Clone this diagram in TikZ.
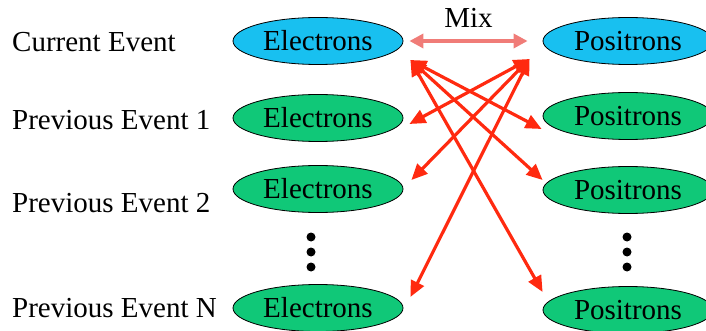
\documentclass[tikz,border=0pt]{standalone}
\usepackage{fontspec}
\setmainfont{Liberation Serif}
\usetikzlibrary{positioning,arrows.meta,shapes.geometric}
\definecolor{cur}{HTML}{18C0F0}
\definecolor{prev}{HTML}{10C878}
\definecolor{mixc}{HTML}{F07C78}
\definecolor{link}{HTML}{FF2A10}

\begin{document}
\begin{tikzpicture}[x=1pt,y=-1pt,
  ev/.style={ellipse, draw=black, line width=0.8pt, minimum width=170pt,
             minimum height=47pt, inner sep=0pt,
             font=\fontsize{29}{34}\selectfont},
  lbl/.style={anchor=west, inner sep=0pt,
              font=\fontsize{29}{34}\selectfont},
  arr/.style={{Triangle[length=16pt,width=14pt]}-{Triangle[length=16pt,width=14pt]},
              line width=3.2pt, color=link},
  mixarr/.style={{Triangle[length=14pt,width=14pt]}-{Triangle[length=14pt,width=14pt]},
                 line width=3.4pt, color=mixc}]
  \useasboundingbox (0,0) rectangle (706,331);
  % events
  \node[lbl] (l0) at (12,42)  {Current Event};
  \node[lbl] (l1) at (12,120) {Previous Event 1};
  \node[lbl] (l2) at (12,203) {Previous Event 2};
  \node[lbl] (lN) at (12,308) {Previous Event N};
  % electrons
  \node[ev, fill=cur]  (e0) at (318,41)  {Electrons};
  \node[ev, fill=prev] (e1) at (318,118) {Electrons};
  \node[ev, fill=prev] (e2) at (318,189) {Electrons};
  \node[ev, fill=prev] (eN) at (318,308) {Electrons};
  % positrons
  \node[ev, fill=cur]  (p0) at (628,41)  {Positrons};
  \node[ev, fill=prev] (p1) at (628,116) {Positrons};
  \node[ev, fill=prev] (p2) at (628,190) {Positrons};
  \node[ev, fill=prev] (pN) at (628,310) {Positrons};
  \foreach \y in {237,252,267}
    {\fill (311,\y) circle (4.5pt); \fill (627,\y) circle (4.5pt);}
  % arrow ends
  \coordinate (e0o) at ([shift={(7,19)}]e0.east);
  \coordinate (p0o) at ([shift={(-13,18)}]p0.west);
  \coordinate (e1i) at ([shift={(6,6)}]e1.east);
  \coordinate (e2i) at ([shift={(8,-9)}]e2.east);
  \coordinate (eNi) at ([shift={(7,-11)}]eN.east);
  \coordinate (p1i) at ([shift={(-1,13)}]p1.west);
  \coordinate (p2i) at ([shift={(0,-10)}]p2.west);
  \coordinate (pNi) at ([shift={(0,-18)}]pN.west);
  \draw[mixarr] ([xshift=6]e0.east) -- node[above=8pt, text=black,
    font=\fontsize{29}{34}\selectfont] (mix) {Mix} ([xshift=-15]p0.west);
  \foreach \a/\b in {e0o/p1i,e0o/p2i,e0o/pNi,p0o/e1i,p0o/e2i,p0o/eNi}
    {\draw[arr] (\a) -- (\b);}
\end{tikzpicture}
\end{document}
